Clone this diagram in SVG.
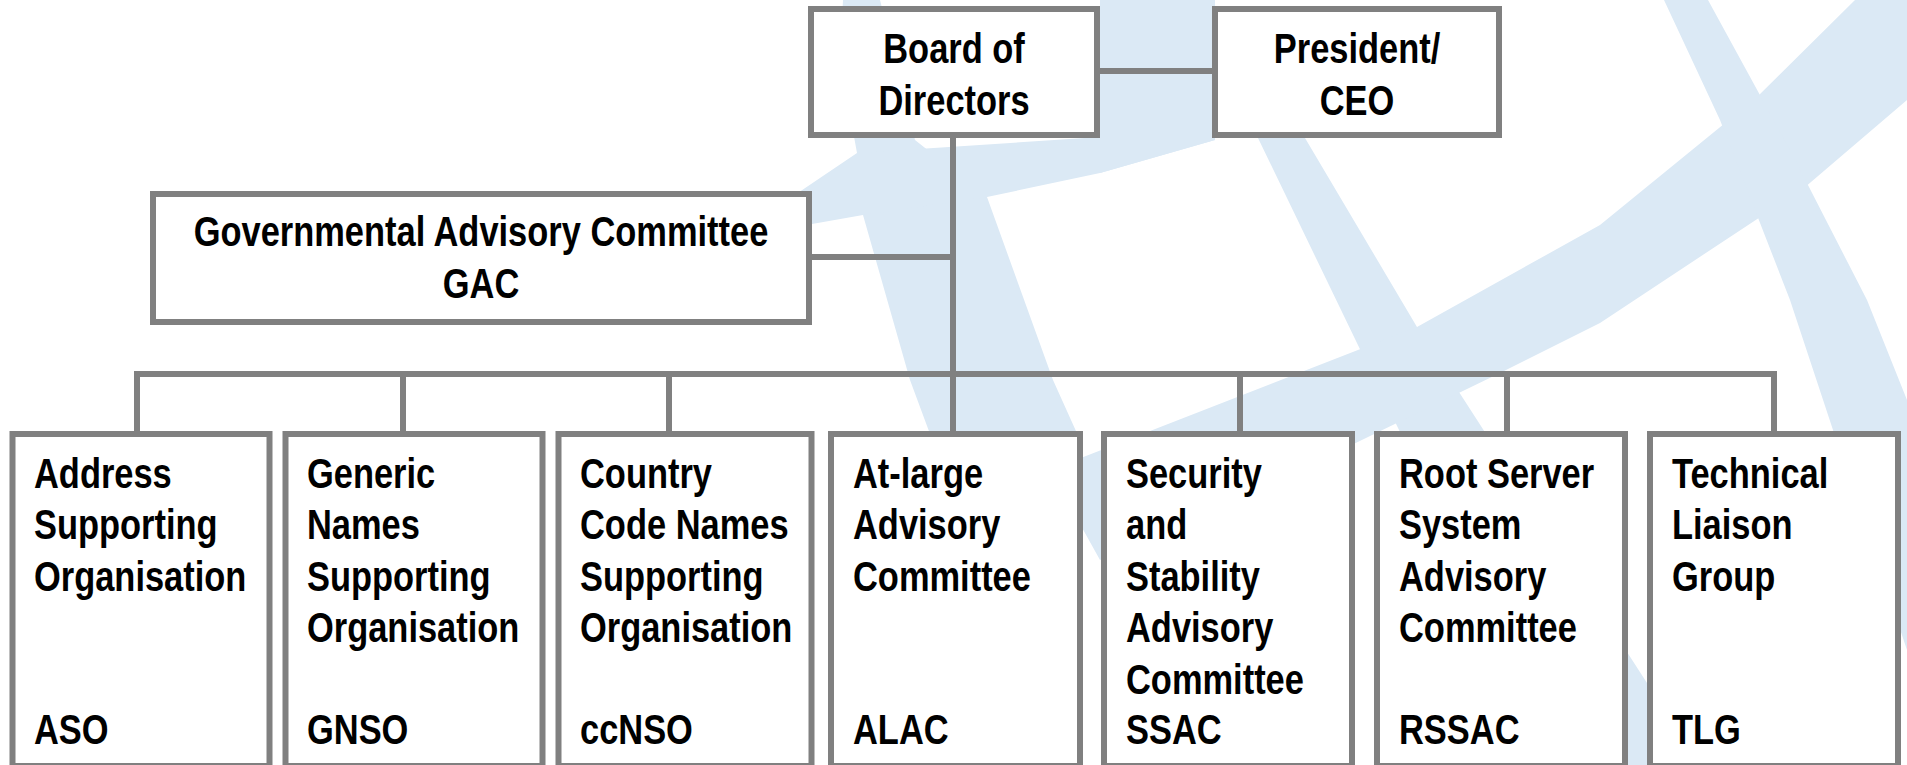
<svg xmlns="http://www.w3.org/2000/svg" width="1907" height="765" viewBox="0 0 1907 765">
<style>
.bg{fill:#dbe9f5;stroke:none}
.box{fill:#fff;stroke:#808080;stroke-width:6}
.conn{fill:none;stroke:#808080;stroke-width:6}
.t{font-family:"Liberation Sans",Arial,sans-serif;font-size:42px;font-weight:bold;fill:#000}
.c{text-anchor:middle}
</style>
<rect width="1907" height="765" fill="#fff"/>
<g id="background">
<polygon class="bg" points="843,0 880,0 915,140 987,197 1053,380 1080,440 1075,765 935,765 930,434 910,380 863,215 857,153 840,60"/>
<polygon class="bg" points="780,205 857,153 1100,137 1215,95 1215,140 1100,173 987,197 863,215 812,224"/>
<polygon class="bg" points="1100,0 1215,0 1215,140 1100,173"/>
<polygon class="bg" points="1240,100 1290,100 1305,138 1417,327 1700,765 1561,765 1370,370 1258,138"/>
<polygon class="bg" points="1855,0 1907,0 1907,100 1804,188 1600,323 1500,373 1300,470 1100,560 1050,470 1417,327 1600,225 1757,97"/>
<polygon class="bg" points="1664,0 1708,0 1790,150 1867,300 1907,400 1907,650 1833,430 1790,300 1720,120"/>
</g>
<g id="connectors">
<path class="conn" d="M1097,71 H1215"/>
<path class="conn" d="M953,135 V434"/>
<path class="conn" d="M809,257 H953"/>
<path class="conn" d="M137,434 V374 H1774 V434"/>
<path class="conn" d="M403,374 V434"/>
<path class="conn" d="M669,374 V434"/>
<path class="conn" d="M1240,374 V434"/>
<path class="conn" d="M1507,374 V434"/>
</g>
<g id="board">
<rect class="box" x="811" y="9" width="286" height="126"/>
<g class="t c" transform="translate(954 0) scale(0.82 1)">
<text y="63">Board of</text>
<text y="115">Directors</text>
</g>
</g>
<g id="president">
<rect class="box" x="1215" y="9" width="284" height="126"/>
<g class="t c" transform="translate(1357 0) scale(0.82 1)">
<text y="63">President/</text>
<text y="115">CEO</text>
</g>
</g>
<g id="gac">
<rect class="box" x="153" y="194" width="656" height="128"/>
<g class="t c" transform="translate(481 0) scale(0.82 1)">
<text y="246">Governmental Advisory Committee</text>
<text y="298">GAC</text>
</g>
</g>
<g id="aso">
<rect class="box" x="12.5" y="434" width="257" height="332"/>
<g class="t" transform="translate(34 0) scale(0.82 1)">
<text y="488">Address</text>
<text y="539.5">Supporting</text>
<text y="591">Organisation</text>
<text y="744">ASO</text>
</g>
</g>
<g id="gnso">
<rect class="box" x="285.5" y="434" width="257" height="332"/>
<g class="t" transform="translate(307 0) scale(0.82 1)">
<text y="488">Generic</text>
<text y="539.5">Names</text>
<text y="591">Supporting</text>
<text y="642.5">Organisation</text>
<text y="744">GNSO</text>
</g>
</g>
<g id="ccnso">
<rect class="box" x="558.5" y="434" width="253" height="332"/>
<g class="t" transform="translate(580 0) scale(0.82 1)">
<text y="488">Country</text>
<text y="539.5">Code Names</text>
<text y="591">Supporting</text>
<text y="642.5">Organisation</text>
<text y="744">ccNSO</text>
</g>
</g>
<g id="alac">
<rect class="box" x="831" y="434" width="249" height="332"/>
<g class="t" transform="translate(853 0) scale(0.82 1)">
<text y="488">At-large</text>
<text y="539.5">Advisory</text>
<text y="591">Committee</text>
<text y="744">ALAC</text>
</g>
</g>
<g id="ssac">
<rect class="box" x="1104" y="434" width="248" height="332"/>
<g class="t" transform="translate(1126 0) scale(0.82 1)">
<text y="488">Security</text>
<text y="539.5">and</text>
<text y="591">Stability</text>
<text y="642.5">Advisory</text>
<text y="694">Committee</text>
<text y="744">SSAC</text>
</g>
</g>
<g id="rssac">
<rect class="box" x="1377" y="434" width="248" height="332"/>
<g class="t" transform="translate(1399 0) scale(0.82 1)">
<text y="488">Root Server</text>
<text y="539.5">System</text>
<text y="591">Advisory</text>
<text y="642.5">Committee</text>
<text y="744">RSSAC</text>
</g>
</g>
<g id="tlg">
<rect class="box" x="1650" y="434" width="248" height="332"/>
<g class="t" transform="translate(1672 0) scale(0.82 1)">
<text y="488">Technical</text>
<text y="539.5">Liaison</text>
<text y="591">Group</text>
<text y="744">TLG</text>
</g>
</g>
</svg>
